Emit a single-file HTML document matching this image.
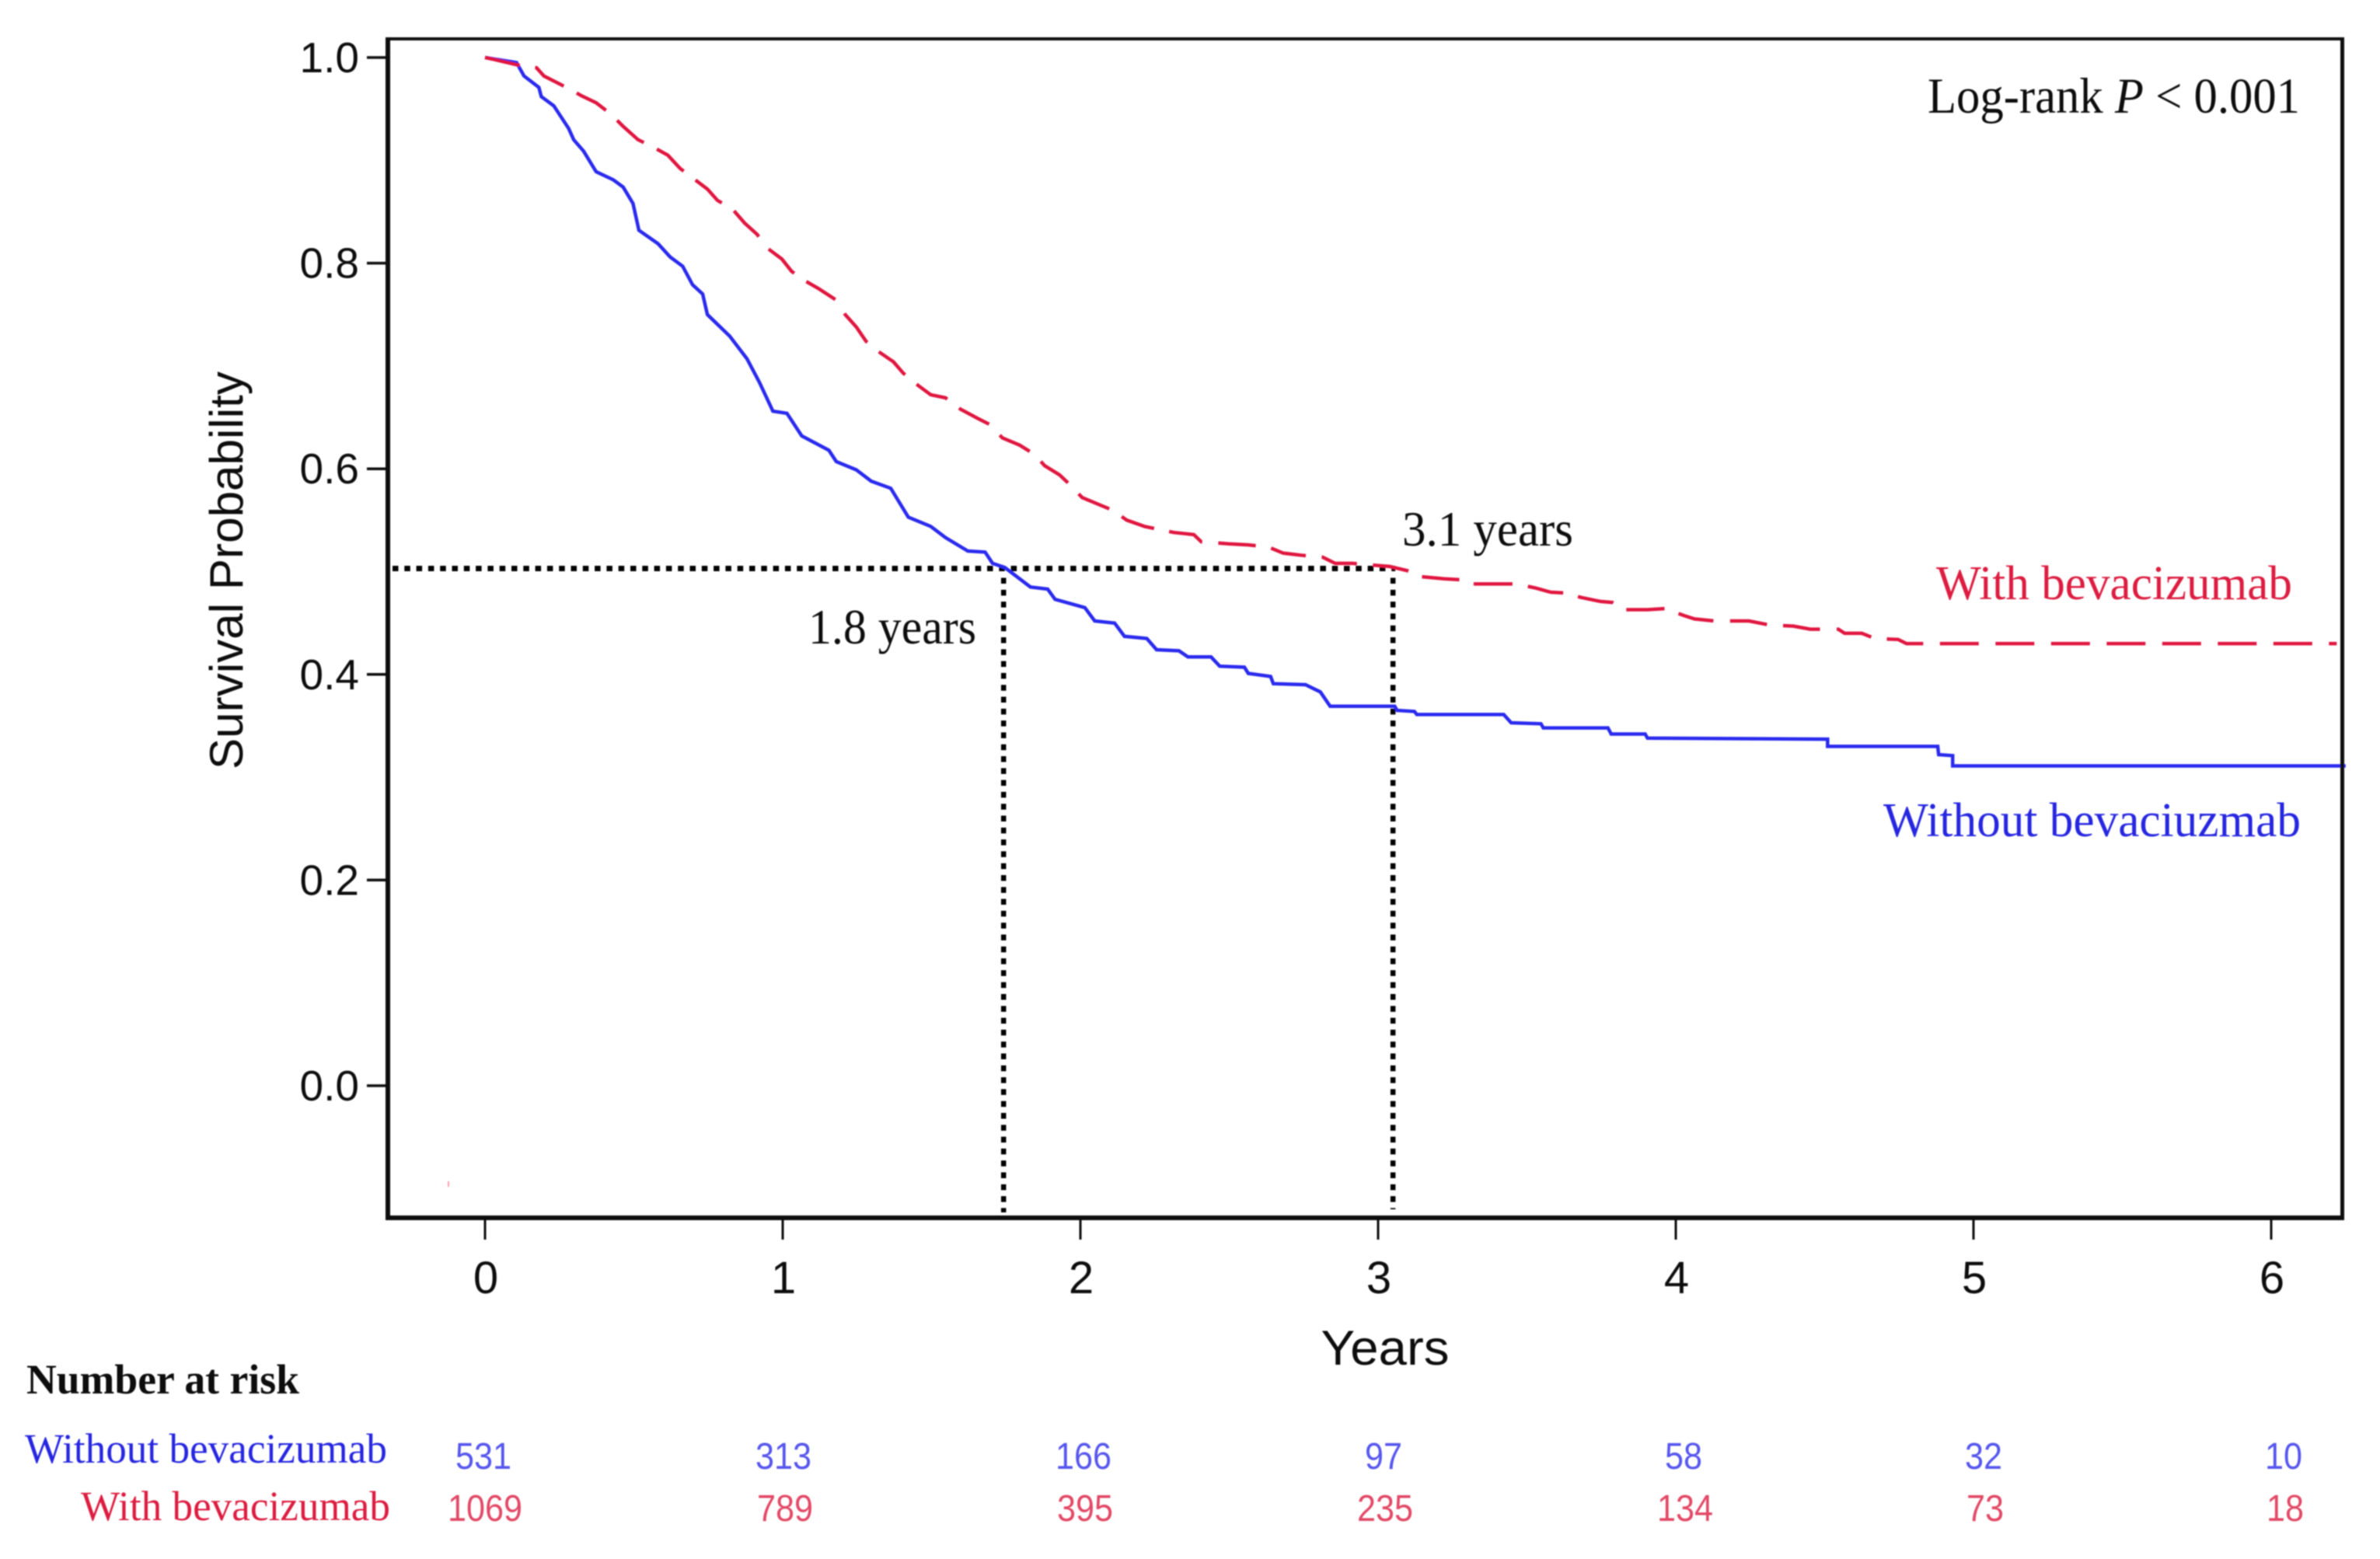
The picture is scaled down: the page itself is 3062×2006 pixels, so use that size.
<!DOCTYPE html>
<html lang="en">
<head>
<meta charset="utf-8">
<title>Kaplan-Meier survival curves with and without bevacizumab</title>
<style>
html,body{margin:0;padding:0;background:#fff;}
svg{display:block;}
.sans{font-family:"Liberation Sans",sans-serif;}
.serif{font-family:"Liberation Serif",serif;}
</style>
</head>
<body>
<svg id="chart" xmlns="http://www.w3.org/2000/svg" width="3062" height="2006" viewBox="0 0 3062 2006">
  <defs>
    <filter id="soft" x="0" y="0" width="100%" height="100%" filterUnits="userSpaceOnUse">
      <feGaussianBlur stdDeviation="0.9"/>
    </filter>
  </defs>
  <rect x="0" y="0" width="3062" height="2006" fill="#fff"/>
  <g id="root" filter="url(#soft)">
    <g id="ticks"></g>
    <g id="guides"></g>
    <g id="curves"></g>
    <g fill="#111">
      <rect x="496" y="48" width="6" height="1522"/>
      <rect x="496" y="48" width="2520" height="4"/>
      <rect x="3011" y="48" width="5" height="1522"/>
      <rect x="496" y="1564" width="2520" height="6"/>
    </g>
    <rect x="576" y="1520" width="2" height="7" fill="#f8a0b0"/>
    <g id="tick-labels" class="sans" fill="#111"></g>
    <text class="sans" transform="translate(312 734) rotate(-90)" text-anchor="middle" font-size="60" textLength="512" lengthAdjust="spacingAndGlyphs" fill="#111">Survival Probability</text>
    <text class="sans" x="1782" y="1756" text-anchor="middle" font-size="63" textLength="165" lengthAdjust="spacingAndGlyphs" fill="#111">Years</text>
    <text class="serif" x="2480" y="145" font-size="65" textLength="479" lengthAdjust="spacingAndGlyphs" fill="#111">Log-rank <tspan font-style="italic">P</tspan> &lt; 0.001</text>
    <text class="serif" x="1804" y="702" font-size="64" textLength="220" lengthAdjust="spacingAndGlyphs" fill="#111">3.1 years</text>
    <text class="serif" x="1040" y="828" font-size="64" textLength="216" lengthAdjust="spacingAndGlyphs" fill="#111">1.8 years</text>
    <text class="serif" x="2491" y="771" font-size="62" textLength="458" lengthAdjust="spacingAndGlyphs" fill="#dc1f40">With bevacizumab</text>
    <text class="serif" x="2423" y="1076" font-size="62" textLength="537" lengthAdjust="spacingAndGlyphs" fill="#2626e0">Without bevaciuzmab</text>
    <text class="serif" x="34" y="1793" font-size="54" font-weight="bold" textLength="351" lengthAdjust="spacingAndGlyphs" fill="#111">Number at risk</text>
    <text class="serif" x="32" y="1882" font-size="54" textLength="466" lengthAdjust="spacingAndGlyphs" fill="#2626e0">Without bevacizumab</text>
    <text class="serif" x="104" y="1956" font-size="54" textLength="398" lengthAdjust="spacingAndGlyphs" fill="#dc1f40">With bevacizumab</text>
    <g id="risk-table" class="sans"></g>
  </g>
</svg>
<script>
const xTickValues = [0, 1, 2, 3, 4, 5, 6];
const yTickValues = [1.0, 0.8, 0.6, 0.4, 0.2, 0.0];
const yTickLabels = ["1.0", "0.8", "0.6", "0.4", "0.2", "0.0"];

const medianWithout = 1.742;
const medianWith = 3.05;
const medianSurvival = 0.503;

const riskWithout = [531, 313, 166, 97, 58, 32, 10];
const riskWith = [1069, 789, 395, 235, 134, 73, 18];

const withoutTime = [0,0.106,0.131,0.181,0.189,0.231,0.281,0.298,0.331,0.373,0.431,0.464,0.497,0.517,0.581,0.622,0.664,0.697,0.731,0.747,0.822,0.880,0.922,0.967,1.014,1.064,1.155,1.180,1.247,1.297,1.363,1.422,1.497,1.547,1.622,1.680,1.705,1.746,1.832,1.890,1.915,2.015,2.048,2.115,2.148,2.223,2.256,2.331,2.361,2.439,2.468,2.551,2.564,2.639,2.648,2.756,2.806,2.839,3.056,3.064,3.122,3.130,3.422,3.447,3.547,3.555,3.772,3.783,3.897,3.905,4.510,4.510,4.880,4.883,4.930,4.930,6.25];
const withoutSurvival = [1.0,0.995,0.982,0.971,0.962,0.953,0.931,0.920,0.909,0.889,0.881,0.874,0.858,0.832,0.819,0.806,0.797,0.779,0.770,0.750,0.729,0.707,0.684,0.656,0.654,0.632,0.618,0.607,0.599,0.588,0.581,0.553,0.544,0.533,0.520,0.519,0.508,0.504,0.485,0.483,0.473,0.465,0.452,0.450,0.437,0.435,0.424,0.423,0.417,0.417,0.408,0.407,0.401,0.398,0.391,0.390,0.383,0.369,0.369,0.365,0.364,0.361,0.361,0.353,0.352,0.348,0.348,0.342,0.342,0.338,0.337,0.330,0.330,0.322,0.321,0.311,0.311];

const withTime = [0,0.031,0.106,0.173,0.198,0.273,0.323,0.373,0.423,0.464,0.514,0.564,0.614,0.656,0.697,0.747,0.781,0.830,0.872,0.914,0.947,0.997,1.030,1.080,1.122,1.180,1.210,1.247,1.280,1.322,1.372,1.405,1.455,1.497,1.547,1.597,1.655,1.696,1.738,1.796,1.846,1.880,1.930,1.963,2.006,2.056,2.106,2.156,2.215,2.315,2.381,2.406,2.498,2.564,2.631,2.681,2.739,2.814,2.856,2.914,3.039,3.097,3.147,3.222,3.281,3.305,3.414,3.464,3.530,3.580,3.639,3.680,3.747,3.788,3.830,3.905,3.963,4.030,4.063,4.130,4.246,4.316,4.395,4.452,4.546,4.567,4.625,4.668,4.747,4.775,6.22];
const withSurvival = [1.0,0.998,0.993,0.990,0.982,0.971,0.963,0.956,0.945,0.933,0.920,0.913,0.905,0.892,0.883,0.872,0.861,0.853,0.839,0.828,0.815,0.804,0.792,0.782,0.775,0.764,0.750,0.738,0.724,0.714,0.704,0.693,0.681,0.672,0.669,0.658,0.649,0.643,0.630,0.623,0.614,0.603,0.594,0.585,0.572,0.566,0.560,0.550,0.544,0.538,0.536,0.529,0.527,0.526,0.524,0.518,0.516,0.514,0.508,0.508,0.505,0.501,0.495,0.493,0.492,0.488,0.488,0.488,0.484,0.480,0.479,0.475,0.471,0.470,0.463,0.463,0.464,0.457,0.454,0.452,0.452,0.448,0.447,0.444,0.444,0.440,0.440,0.435,0.434,0.430,0.430];

const SVG_NS = "http://www.w3.org/2000/svg";
const xScale = t => 624 + 383 * t;
const yScale = s => 74 + (1 - s) * 1323;
const riskX = i => 622 + 386 * i;

function make(tag, parent, attrs) {
  const el = document.createElementNS(SVG_NS, tag);
  for (const k in attrs) el.setAttribute(k, attrs[k]);
  parent.appendChild(el);
  return el;
}

const ticksGroup = document.getElementById("ticks");
const labelsGroup = document.getElementById("tick-labels");
const guidesGroup = document.getElementById("guides");
const curvesGroup = document.getElementById("curves");
const riskGroup = document.getElementById("risk-table");

yTickValues.forEach((v, i) => {
  const tick = make("line", ticksGroup, {x1: 472, x2: 499, y1: yScale(v), y2: yScale(v), stroke: "#111", "stroke-width": 3.5});
  
  
  const label = make("text", labelsGroup, {x: 462, y: yScale(v) + 19, "text-anchor": "end", "font-size": 55});
  
  
  label.textContent = yTickLabels[i];
});

xTickValues.forEach(v => {
  const tick = make("line", ticksGroup, {x1: xScale(v), x2: xScale(v), y1: 1566, y2: 1595, stroke: "#111", "stroke-width": 3});
  
  
  const label = make("text", labelsGroup, {x: xScale(v) + 1, y: 1664, "text-anchor": "middle", "font-size": 58});
  
  
  label.textContent = String(v);
});

const hGuide = make("line", guidesGroup, {x1: 505, x2: xScale(medianWith) + 3, y1: yScale(medianSurvival), y2: yScale(medianSurvival), stroke: "#000", "stroke-width": 7, "stroke-dasharray": "7.5 7.8"});



const vGuideA = make("line", guidesGroup, {x1: xScale(medianWithout), x2: xScale(medianWithout), y1: yScale(medianSurvival) + 12, y2: 1560, stroke: "#000", "stroke-width": 6.5, "stroke-dasharray": "7.5 7.8"});



const vGuideB = make("line", guidesGroup, {x1: xScale(medianWith), x2: xScale(medianWith), y1: yScale(medianSurvival) + 12, y2: 1556, stroke: "#000", "stroke-width": 6.5, "stroke-dasharray": "7.5 7.8"});



function solidPath(times, survival) {
  return times.map((t, i) => (i ? "L" : "M") + xScale(t).toFixed(1) + " " + yScale(survival[i]).toFixed(1)).join(" ");
}

// Walk the curve and emit dash sub-paths; vertical travel counts partly, as in the stepped original.
function dashedPath(times, survival, on, off) {
  let d = "", drawing = true, left = on;
  let px = xScale(times[0]), py = yScale(survival[0]);
  d += "M" + px.toFixed(1) + " " + py.toFixed(1);
  for (let i = 1; i < times.length; i++) {
    const qx = xScale(times[i]), qy = yScale(survival[i]);
    const seg = Math.abs(qx - px) + 0.55 * Math.abs(qy - py);
    let done = 0;
    while (seg - done > left) {
      done += left;
      const f = done / seg;
      const sx = px + (qx - px) * f, sy = py + (qy - py) * f;
      d += (drawing ? " L" : " M") + sx.toFixed(1) + " " + sy.toFixed(1);
      drawing = !drawing;
      left = drawing ? on : off;
    }
    left -= seg - done;
    if (drawing) d += " L" + qx.toFixed(1) + " " + qy.toFixed(1);
    px = qx; py = qy;
  }
  return d;
}

const withoutCurve = make("path", curvesGroup, {d: solidPath(withoutTime, withoutSurvival), fill: "none", stroke: "#2a2aee", "stroke-width": 4.5});



const withCurve = make("path", curvesGroup, {d: dashedPath(withTime, withSurvival, 50, 21.5), fill: "none", stroke: "#e0183f", "stroke-width": 4.5});



riskWithout.forEach((n, i) => {
  const s = String(n);
  const cell = make("text", riskGroup, {x: riskX(i), y: 1890, "text-anchor": "middle", "font-size": 48, fill: "#5656ee", textLength: s.length * 24, lengthAdjust: "spacingAndGlyphs"});
  
  
  cell.textContent = s;
});

riskWith.forEach((n, i) => {
  const s = String(n);
  const cell = make("text", riskGroup, {x: riskX(i) + 2, y: 1957, "text-anchor": "middle", "font-size": 48, fill: "#e24a66", textLength: s.length * 24, lengthAdjust: "spacingAndGlyphs"});
  
  
  cell.textContent = s;
});
</script>
</body>
</html>
